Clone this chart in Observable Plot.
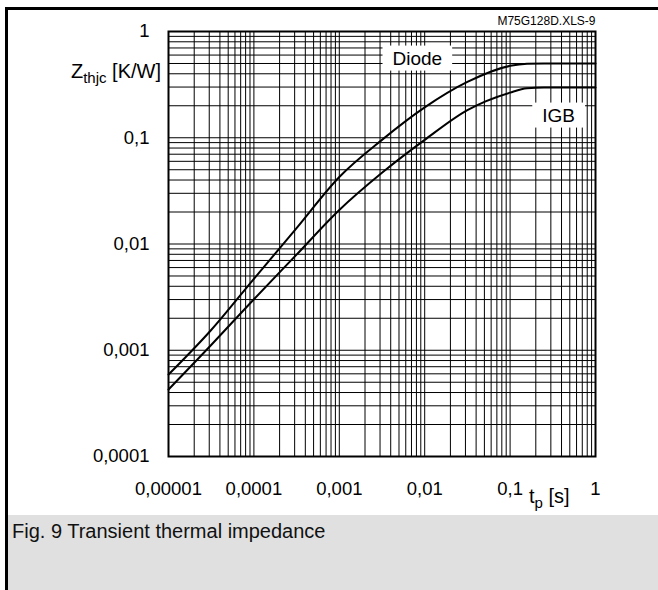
<!DOCTYPE html>
<html>
<head>
<meta charset="utf-8">
<script src="https://cdn.jsdelivr.net/npm/d3@7"></script>
<script src="https://cdn.jsdelivr.net/npm/@observablehq/plot@0.6"></script>
<style>
  body { margin: 0; background: #fff; }
  #wrap { position: relative; width: 658px; height: 590px; overflow: hidden; background: #fff; font-family: "Liberation Sans", Arial, sans-serif; }
  .bt { position: absolute; left: 5px; top: 7px; right: 0; height: 3px; background: #000; }
  .bl { position: absolute; left: 5px; top: 7px; width: 3px; bottom: 0; background: #000; }
  #chart { position: absolute; left: 0; top: 0; }
  .caption { position: absolute; left: 8px; top: 515px; right: 0; bottom: 0; background: #e0e0e0; color: #111; font-size: 20px; padding: 5px 0 0 4px; box-sizing: border-box; }
</style>
</head>
<body>
<div id="wrap">
  <div id="chart"></div>
  <div class="bt"></div>
  <div class="bl"></div>
  <div class="caption">Fig. 9 Transient thermal impedance</div>
</div>
<script>
// Tick values and labels
const tTicks = [1e-5, 1e-4, 1e-3, 1e-2, 1e-1, 1];
const tTickLabels = ["0,00001", "0,0001", "0,001", "0,01", "0,1", "1"];
const zTicks = [1e-4, 1e-3, 1e-2, 1e-1, 1];
const zTickLabels = ["0,0001", "0,001", "0,01", "0,1", "1"];

// Pulse duration tp [s]
const tp = [1e-5, 3.16e-5, 1e-4, 3.16e-4, 1e-3, 3.16e-3, 1e-2, 3.16e-2, 0.1, 0.158, 0.25, 0.5, 1];
// Zthjc [K/W]
const diodeZ = [5.9e-4, 1.55e-3, 4.7e-3, 0.0141, 0.0427, 0.0955, 0.193, 0.335, 0.475, 0.497, 0.50, 0.50, 0.50];
const igbtZ  = [4.27e-4, 1.12e-3, 3.02e-3, 7.94e-3, 0.0209, 0.0468, 0.0955, 0.182, 0.266, 0.292, 0.297, 0.297, 0.297];

// Curve labels
const labelNames = ["Diode", "IGB"];
const labelT = [0.0082, 0.37];
const labelZ = [0.557, 0.162];

const diode = tp.map((t, i) => ({t, z: diodeZ[i]}));
const igbt = tp.map((t, i) => ({t, z: igbtZ[i]}));
const labels = labelNames.map((name, i) => ({name, t: labelT[i], z: labelZ[i]}));

const tFmt = new Map(tTicks.map((v, i) => [v, tTickLabels[i]]));
const zFmt = new Map(zTicks.map((v, i) => [v, zTickLabels[i]]));

const chart = Plot.plot({
  width: 658,
  height: 515,
  marginLeft: 168,
  marginRight: 63,
  marginTop: 31,
  marginBottom: 59,
  style: { fontFamily: '"Liberation Sans", Arial, sans-serif', fontSize: "18.5px", color: "#000", background: "transparent" },
  x: { type: "log", domain: [1e-5, 1] },
  y: { type: "log", domain: [1e-4, 1] },
  marks: [
    Plot.gridX({ ticks: 60, stroke: "#000", strokeOpacity: 1, strokeWidth: 1 }),
    Plot.gridY({ ticks: 60, stroke: "#000", strokeOpacity: 1, strokeWidth: 1 }),
    Plot.frame({ stroke: "#000", strokeWidth: 2 }),
    Plot.axisX({ ticks: tTicks, tickFormat: d => tFmt.get(d), tickSize: 0, tickPadding: 25, label: null }),
    Plot.axisY({ ticks: zTicks, tickFormat: d => zFmt.get(d), tickSize: 0, tickPadding: 19, label: null }),
    Plot.line(diode, { x: "t", y: "z", stroke: "#000", strokeWidth: 2, curve: "monotone-x" }),
    Plot.line(igbt, { x: "t", y: "z", stroke: "#000", strokeWidth: 2, curve: "monotone-x" }),
    Plot.text(labels, { x: "t", y: "z", text: "name", fill: "#000", fontSize: 19 }),
    Plot.text(["M75G128D.XLS-9"], { frameAnchor: "top-right", text: d => d, textAnchor: "end", lineAnchor: "bottom", dy: -7, fontSize: 12, fill: "#000" })
  ]
});

document.getElementById("chart").appendChild(chart);

const svg = d3.select(chart);
// White boxes behind curve labels
svg.selectAll("text").filter(function() { return labelNames.includes(this.textContent); }).each(function() {
  const node = this;
  const b = node.getBBox();
  const padX = 10, padY = 3;
  const x0 = +(node.getAttribute("x") || 0), y0 = +(node.getAttribute("y") || 0);
  d3.select(node.parentNode).insert("rect", () => node)
    .attr("transform", node.getAttribute("transform"))
    .attr("x", b.x - padX).attr("y", b.y - padY + 1)
    .attr("width", b.width + 2 * padX).attr("height", b.height + 2 * padY - 2)
    .attr("fill", "#fff");
});

// Axis titles with subscripts
const yl = svg.append("text").attr("x", 161).attr("y", 78).attr("text-anchor", "end")
  .attr("font-size", 20).attr("fill", "#000");
yl.append("tspan").text("Z");
yl.append("tspan").attr("dy", 5).attr("font-size", 15).text("thjc");
yl.append("tspan").attr("dy", -5).text(" [K/W]");

const xl = svg.append("text").attr("x", 529).attr("y", 503).attr("text-anchor", "start")
  .attr("font-size", 20).attr("fill", "#000");
xl.append("tspan").text("t");
xl.append("tspan").attr("dy", 5).attr("font-size", 15).text("p");
xl.append("tspan").attr("dy", -5).text(" [s]");
</script>
</body>
</html>
